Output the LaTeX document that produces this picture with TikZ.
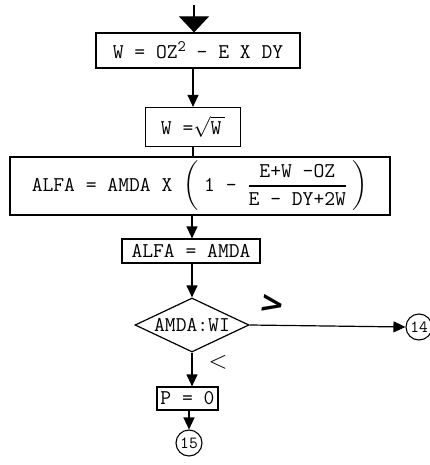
\documentclass[tikz,border=0pt]{standalone}
\usepackage{amsmath}
\usepackage{fontspec}
\newfontfamily\markfont{DejaVu Sans}
\usetikzlibrary{arrows.meta,shapes.geometric}
\begin{document}
\begin{tikzpicture}[x=1pt,y=-1pt,font=\ttfamily\fontsize{21}{24}\selectfont,
  blk/.style={draw,line width=1.2pt,inner sep=0pt},
  flow/.style={line width=1.2pt,-{Triangle[length=12pt,width=11pt]}},
  conn/.style={draw,circle,line width=1.1pt,inner sep=0pt,minimum size=26pt,font=\ttfamily\fontsize{17}{18}\selectfont}]
\useasboundingbox (0,0) rectangle (430,465);
% entry
\coordinate (entry) at (194,5);
\node[blk,minimum width=204pt,minimum height=35pt] (wsq) at (198,50.5) {W = OZ\raisebox{7pt}{\fontsize{16}{16}\selectfont 2} - E X DY};
\node[blk,minimum width=95pt,minimum height=39pt] (wroot) at (193,127) {W =$\sqrt{\text{W\,}}$};
\node[blk,minimum width=380pt,minimum height=58pt] (alfa) at (200,186)
  {ALFA = AMDA X $\left(\;\text{1 - }\genfrac{}{}{1pt}{0}{\text{E+W -OZ}}{\text{E - DY+2W}}\;\right)$};
\node[blk,minimum width=138pt,minimum height=24pt] (alfb) at (191,251) {ALFA = AMDA};
\node[blk,diamond,aspect=2.2,minimum width=114pt,minimum height=54pt] (test) at (192,325) {AMDA:WI};
\node[blk,minimum width=61pt,minimum height=23pt] (pzero) at (187.5,398.5) {P = 0};
\node[conn] (c14) at (419,327) {14};
\node[conn] (c15) at (189,443) {15};
% branch marks
\node[rotate=-10,font=\markfont\bfseries\fontsize{30}{30}\selectfont] (gt) at (272,305) {>};
\node[font=\fontsize{30}{30}\selectfont] (lt) at (218,362) {$<$};
% connectors
\draw[line width=1.2pt,-{Triangle[length=16pt,width=30pt]}] (entry) -- (entry |- wsq.north);
\draw[flow] (wroot.north |- wsq.south) -- (wroot.north);
\draw[line width=1.2pt] (wroot.south) -- (wroot.south |- alfa.north);
\draw[flow] (192,0 |- alfa.south) -- (192,0 |- alfb.north);
\draw[flow] (test.north |- alfb.south) -- (test.north);
\draw[flow] (test.south) -- (test.south |- pzero.north);
\draw[flow] (test.east) -- (c14.west);
\draw[flow] (c15.north |- pzero.south) -- (c15.north);
\end{tikzpicture}
\end{document}
